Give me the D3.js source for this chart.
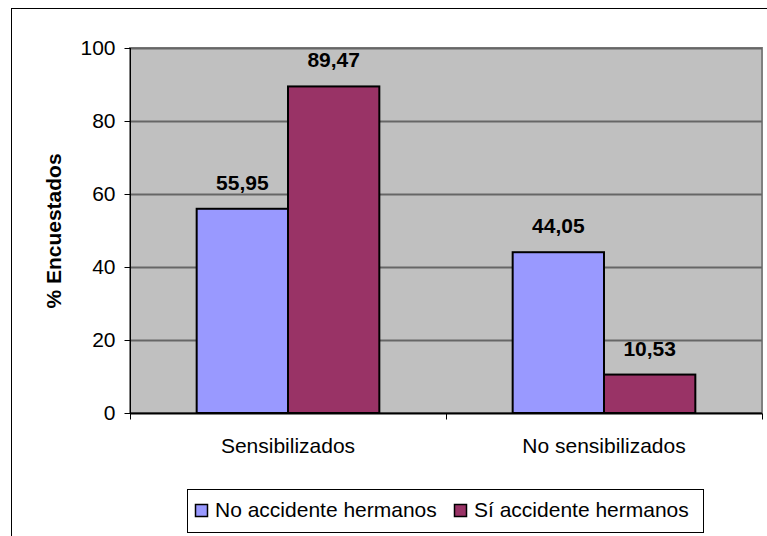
<!DOCTYPE html>
<html>
<head>
<meta charset="utf-8">
<script src="https://cdn.jsdelivr.net/npm/d3@7"></script>
<style>
  body { margin: 0; background: #fff; }
  svg text { font-family: "Liberation Sans", Arial, sans-serif; }
</style>
</head>
<body>
<div id="chart"></div>
<script>
var categories = ['Sensibilizados', 'No sensibilizados'];
var seriesNames = ['No accidente hermanos', 'Sí accidente hermanos'];
var noAccidente = [55.95, 44.05];
var siAccidente = [89.47, 10.53];
var yTicks = [0, 20, 40, 60, 80, 100];
var colors = ['#9999FF', '#993366'];

var w = 767, h = 536;
var m = { left: 130, top: 48, right: 5, bottom: 123 };
var fs = 21;

var svg = d3.select('#chart').append('svg')
    .attr('width', w)
    .attr('height', h);

// outer chart border (only top and left visible)
svg.append('rect')
    .attr('x', 11.5).attr('y', 8.5)
    .attr('width', 800).attr('height', 600)
    .attr('fill', 'none')
    .attr('stroke', '#000')
    .attr('stroke-width', 1);

var x0 = d3.scaleBand()
    .domain(categories)
    .range([m.left, w - m.right]);

var x1 = d3.scaleBand()
    .domain([0, 1])
    .range([0, x0.bandwidth()])
    .paddingOuter(0.73);

var y = d3.scaleLinear()
    .domain([0, 100])
    .range([h - m.bottom, m.top]);

// plot area
svg.append('rect')
    .attr('x', m.left).attr('y', m.top)
    .attr('width', w - m.right - m.left)
    .attr('height', y(0) - m.top)
    .attr('fill', '#C0C0C0')
    .attr('stroke', '#808080')
    .attr('stroke-width', 2);

// gridlines
svg.append('g').selectAll('line')
    .data(yTicks.slice(1))
    .enter().append('line')
    .attr('x1', m.left).attr('x2', w - m.right)
    .attr('y1', function(d) { return Math.round(y(d)) + 0.5; })
    .attr('y2', function(d) { return Math.round(y(d)) + 0.5; })
    .attr('stroke', '#666')
    .attr('stroke-width', 2);

// bars
var series = [noAccidente, siAccidente];
series.forEach(function(vals, s) {
    svg.append('g').selectAll('rect')
        .data(vals)
        .enter().append('rect')
        .attr('x', function(d, i) { return x0(categories[i]) + x1(s); })
        .attr('y', function(d) { return y(d); })
        .attr('width', x1.bandwidth())
        .attr('height', function(d) { return y(0) - y(d); })
        .attr('fill', colors[s])
        .attr('stroke', '#000')
        .attr('stroke-width', 2);

    svg.append('g').selectAll('text')
        .data(vals)
        .enter().append('text')
        .attr('x', function(d, i) { return x0(categories[i]) + x1(s) + x1.bandwidth() / 2; })
        .attr('y', function(d) { return y(d) - 19; })
        .attr('text-anchor', 'middle')
        .attr('font-size', fs)
        .attr('font-weight', 'bold')
        .text(function(d) { return d.toFixed(2).replace('.', ','); });
});

// y axis
var yAxis = d3.axisLeft(y).tickValues(yTicks).tickSize(6).tickPadding(9);
var gy = svg.append('g')
    .attr('transform', 'translate(' + (m.left + 0.5) + ',0)')
    .call(yAxis);
gy.attr('font-size', null).attr('font-family', null);
gy.selectAll('text').attr('font-size', fs).attr('fill', '#000');
gy.selectAll('line').attr('stroke', '#000');
gy.select('.domain').attr('stroke', '#000').attr('d', 'M0,' + m.top + 'V' + y(0));

// x axis
var gx = svg.append('g')
    .attr('transform', 'translate(0,' + (y(0) + 0.5) + ')');
gx.append('line')
    .attr('x1', m.left).attr('x2', w - m.right)
    .attr('stroke', '#000').attr('stroke-width', 2);
gx.selectAll('.tk')
    .data([m.left, x0(categories[1]), w - m.right])
    .enter().append('line')
    .attr('class', 'tk')
    .attr('x1', function(d) { return Math.round(d) + 0.5; })
    .attr('x2', function(d) { return Math.round(d) + 0.5; })
    .attr('y1', 0).attr('y2', 6)
    .attr('stroke', '#000');
gx.selectAll('.lbl')
    .data(categories)
    .enter().append('text')
    .attr('class', 'lbl')
    .attr('x', function(d) { return x0(d) + x0.bandwidth() / 2; })
    .attr('y', 39)
    .attr('text-anchor', 'middle')
    .attr('font-size', fs)
    .text(function(d) { return d; });

// y title
svg.append('text')
    .attr('transform', 'translate(61,231) rotate(-90)')
    .attr('text-anchor', 'middle')
    .attr('font-size', fs)
    .attr('font-weight', 'bold')
    .text('% Encuestados');

// legend
var lg = svg.append('g');
lg.append('rect')
    .attr('x', 187.5).attr('y', 489.5)
    .attr('width', 516).attr('height', 43)
    .attr('fill', '#fff')
    .attr('stroke', '#000');
var legendX = [195, 454];
seriesNames.forEach(function(name, i) {
    lg.append('rect')
        .attr('x', legendX[i] + 0.5).attr('y', 504.5)
        .attr('width', 12).attr('height', 12)
        .attr('fill', colors[i])
        .attr('stroke', '#000')
        .attr('stroke-width', 1.5);
    lg.append('text')
        .attr('x', legendX[i] + 20)
        .attr('y', 517)
        .attr('font-size', fs)
        .text(name);
});
</script>
</body>
</html>
